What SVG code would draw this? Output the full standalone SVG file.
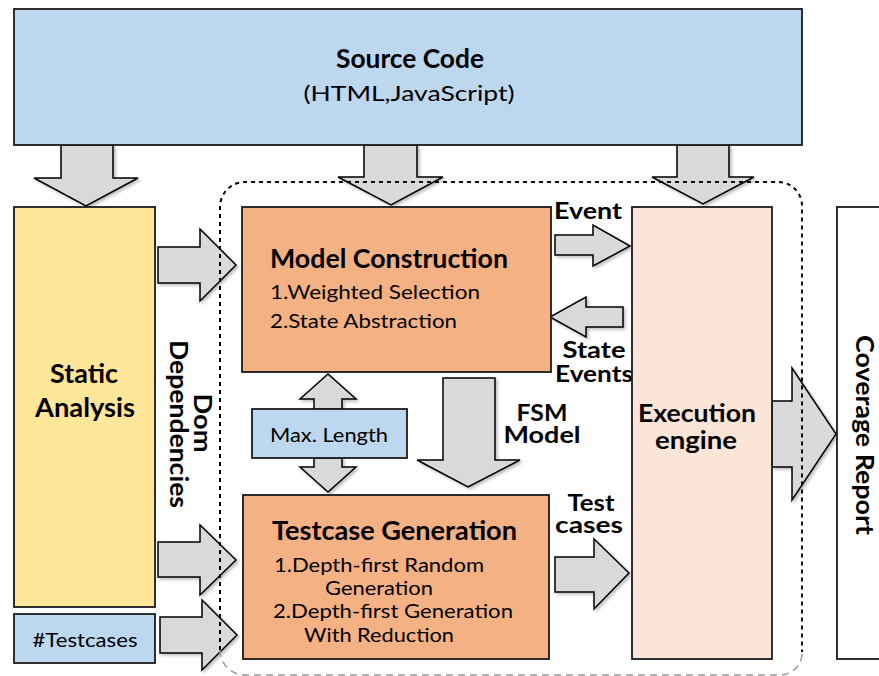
<svg xmlns="http://www.w3.org/2000/svg" width="879" height="676" viewBox="0 0 879 676">
<defs>
<filter id="sh" x="-20%" y="-20%" width="150%" height="150%">
<feDropShadow dx="2" dy="2" stdDeviation="1.5" flood-color="#000" flood-opacity="0.25"/>
</filter>
</defs>
<style>
.box{stroke:#1a1a1a;stroke-width:1.8}
.arr{fill:#D9D9D9;stroke:#000;stroke-width:1.5;stroke-linejoin:miter;filter:url(#sh)}
.b{font-family:Lato,"Liberation Sans",Arial,sans-serif;font-weight:bold;fill:#000}
.r{font-family:Lato,"Liberation Sans",Arial,sans-serif;fill:#000}
</style>
<rect width="879" height="676" fill="#fff"/>

<g id="connectors">
<polygon class="arr" points="61,145 113,145 113,178 138,178 86,206 34,178 61,178"/>
<polygon class="arr" points="364,145 417,145 417,177 443,177 391,205 338,177 364,177"/>
<polygon class="arr" points="677,145 729,145 729,177 754,177 703,204 652,177 677,177"/>
<polygon class="arr" points="158,247 200,247 200,229 236,265 200,301 200,283 158,283"/>
<polygon class="arr" points="158,542 200,542 200,525 236,560 200,595 200,577 158,577"/>
<polygon class="arr" points="160,617 202,617 202,600 237,635 202,670 202,653 160,653"/>
<polygon class="arr" points="555,235 593,235 593,225 630,246 593,266 593,255 555,255"/>
<polygon class="arr" points="623,307 586,307 586,297 550,317 586,337 586,327 623,327"/>
<polygon class="arr" points="555,557 594,557 594,539 629,573 594,609 594,592 555,592"/>
<polygon class="arr" points="772,401 792,401 792,368 836,434 792,500 792,467 772,467"/>
<polygon class="arr" points="314,409 314,399 300,399 328,374 356,399 342,399 342,409"/>
<polygon class="arr" points="314,458 342,458 342,467 356,467 328,492 300,467 314,467"/>
<polygon class="arr" points="443,378 495,378 495,460 520,460 468,487 417,460 443,460"/>
<text class="b" x="554" y="219" font-size="23" textLength="68" lengthAdjust="spacingAndGlyphs">Event</text>
<text class="b" x="594" y="358" font-size="22" text-anchor="middle" textLength="63" lengthAdjust="spacingAndGlyphs">State</text>
<text class="b" x="594" y="382" font-size="22" text-anchor="middle" textLength="78" lengthAdjust="spacingAndGlyphs">Events</text>
<text class="b" x="542" y="421" font-size="22" text-anchor="middle" textLength="51" lengthAdjust="spacingAndGlyphs">FSM</text>
<text class="b" x="542" y="443" font-size="22" text-anchor="middle" textLength="77" lengthAdjust="spacingAndGlyphs">Model</text>
<text class="b" x="591" y="511" font-size="22" text-anchor="middle" textLength="47" lengthAdjust="spacingAndGlyphs">Test</text>
<text class="b" x="589" y="533" font-size="22" text-anchor="middle" textLength="68" lengthAdjust="spacingAndGlyphs">cases</text>
<text class="b" transform="translate(194,423) rotate(90)" font-size="24" text-anchor="middle" textLength="59" lengthAdjust="spacingAndGlyphs">Dom</text>
<text class="b" transform="translate(170,424) rotate(90)" font-size="24" text-anchor="middle" textLength="168" lengthAdjust="spacingAndGlyphs">Dependencies</text>
</g>

<g id="boundary">
<path d="M220,650 L220,207 A25,25 0 0 1 245,182 L778,182 A24,24 0 0 1 802,206 L802,652" fill="none" stroke="#000" stroke-width="2" stroke-dasharray="4 4"/>
<path d="M220,650 A25,25 0 0 0 245,675 L780,675 A22,22 0 0 0 802,653" fill="none" stroke="#999" stroke-width="1.5" stroke-dasharray="7 5"/>
</g>

<g id="source-code">
<rect class="box" x="14" y="9" width="788" height="136" fill="#BDD7EE"/>
<text class="b" x="410" y="68" font-size="26" text-anchor="middle" textLength="148" lengthAdjust="spacingAndGlyphs">Source Code</text>
<text class="r" x="409" y="101" font-size="21" text-anchor="middle" textLength="211" lengthAdjust="spacingAndGlyphs">(HTML,JavaScript)</text>
</g>

<g id="static-analysis">
<rect class="box" x="14" y="207" width="141" height="400" fill="#FFE699"/>
<text class="b" x="84" y="383" font-size="26" text-anchor="middle" textLength="68" lengthAdjust="spacingAndGlyphs">Static</text>
<text class="b" x="85" y="417" font-size="26" text-anchor="middle" textLength="100" lengthAdjust="spacingAndGlyphs">Analysis</text>
</g>

<g id="testcases-input">
<rect class="box" x="14" y="614" width="141" height="49" fill="#BDD7EE"/>
<text class="r" x="85" y="647" font-size="19" text-anchor="middle" textLength="105" lengthAdjust="spacingAndGlyphs">#Testcases</text>
</g>

<g id="model-construction">
<rect class="box" x="242" y="207" width="309" height="165" fill="#F4B183"/>
<text class="b" x="270" y="268" font-size="26" textLength="238" lengthAdjust="spacingAndGlyphs">Model Construction</text>
<text class="r" x="270" y="299" font-size="19" textLength="210" lengthAdjust="spacingAndGlyphs">1.Weighted Selection</text>
<text class="r" x="270" y="328" font-size="19" textLength="187" lengthAdjust="spacingAndGlyphs">2.State Abstraction</text>
</g>

<g id="max-length">
<rect class="box" x="252" y="409" width="155" height="49" fill="#BDD7EE"/>
<text class="r" x="270" y="442" font-size="19" textLength="118" lengthAdjust="spacingAndGlyphs">Max. Length</text>
</g>

<g id="testcase-generation">
<rect class="box" x="243" y="495" width="306" height="164" fill="#F4B183"/>
<text class="b" x="272" y="540" font-size="26" textLength="245" lengthAdjust="spacingAndGlyphs">Testcase Generation</text>
<text class="r" x="274" y="572" font-size="19" textLength="210" lengthAdjust="spacingAndGlyphs">1.Depth-first Random</text>
<text class="r" x="325" y="595" font-size="19" textLength="108" lengthAdjust="spacingAndGlyphs">Generation</text>
<text class="r" x="273" y="618" font-size="19" textLength="240" lengthAdjust="spacingAndGlyphs">2.Depth-first Generation</text>
<text class="r" x="304" y="642" font-size="19" textLength="150" lengthAdjust="spacingAndGlyphs">With Reduction</text>
</g>

<g id="execution-engine">
<rect class="box" x="632" y="207" width="140" height="452" fill="#FBE5D6"/>
<text class="b" x="697" y="422" font-size="25" text-anchor="middle" textLength="118" lengthAdjust="spacingAndGlyphs">Execution</text>
<text class="b" x="696" y="449" font-size="25" text-anchor="middle" textLength="82" lengthAdjust="spacingAndGlyphs">engine</text>
</g>

<g id="coverage-report">
<rect class="box" x="837" y="207" width="60" height="452" fill="#fff"/>
<text class="b" transform="translate(856,435) rotate(90)" font-size="25" text-anchor="middle" textLength="200" lengthAdjust="spacingAndGlyphs">Coverage Report</text>
</g>
</svg>
